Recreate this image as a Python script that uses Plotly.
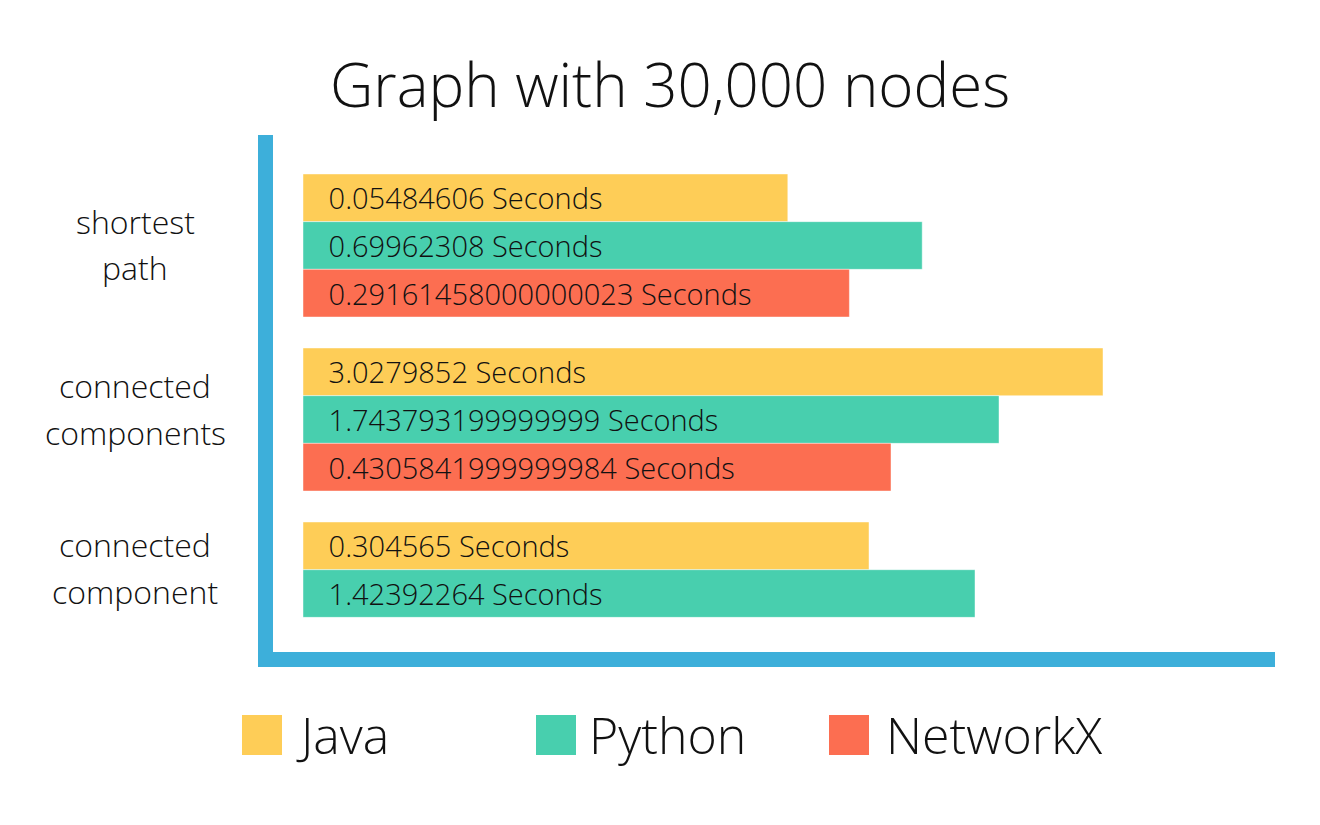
import plotly.graph_objects as go

# ---- data ----
categories = ["shortest path", "connected components", "connected component"]
label_lines = [["shortest", "path"], ["connected", "components"], ["connected", "component"]]
series = ["Java", "Python", "NetworkX"]
seconds_java = ["0.05484606", "3.0279852", "0.304565"]
seconds_python = ["0.69962308", "1.743793199999999", "1.42392264"]
seconds_networkx = ["0.29161458000000023", "0.4305841999999984", None]
# bar lengths as drawn in the infographic (percent of the longest bar; not to scale with the seconds)
length_java = [60.6, 100.0, 70.75]
length_python = [77.4, 87.0, 84.0]
length_networkx = [68.3, 73.5, None]

colors = {"Java": "#FECD57", "Python": "#48CFAE", "NetworkX": "#FC6E51"}
AXIS_BLUE = "#3DAFDA"
FONT = "Open Sans"
W = 350

fig = go.Figure()
for name, lens, secs in [("Java", length_java, seconds_java),
                         ("Python", length_python, seconds_python),
                         ("NetworkX", length_networkx, seconds_networkx)]:
    texts = [("\u00a0" * 3 + s + " Seconds") if s is not None else "" for s in secs]
    fig.add_trace(go.Bar(
        name=name, y=categories, x=lens, orientation="h",
        marker=dict(color=colors[name], line=dict(color="rgba(255,255,255,0.45)", width=1)),
        text=texts, textposition="inside", insidetextanchor="start",
        textfont=dict(family=FONT, size=29, color="#111111", weight=W),
        constraintext="none", cliponaxis=False, hoverinfo="skip", showlegend=False,
    ))

annotations = []
# category labels (two centered lines each)
shifts = [(24, -22), (34, -13), (49, 2)]
for cat, lines, (s1, s2) in zip(categories, label_lines, shifts):
    for line, sh in zip(lines, (s1, s2)):
        annotations.append(dict(
            x=-0.1377, xref="paper", y=cat, yref="y", yshift=sh,
            text=line, showarrow=False, xanchor="center", yanchor="middle",
            font=dict(family=FONT, size=32, color="#111111", weight=W)))

# custom legend
legend_sq_x = [-0.011, 0.2824, 0.5749]
legend_tx_x = [0.021, 0.3134, 0.6098]
for name, sx, tx in zip(series, legend_sq_x, legend_tx_x):
    annotations.append(dict(
        x=sx, xref="paper", y=-0.1605, yref="paper", text="\u00a0", showarrow=False,
        width=40, height=40, bgcolor=colors[name], borderpad=0, borderwidth=0,
        xanchor="center", yanchor="middle", font=dict(size=10)))
    annotations.append(dict(
        x=tx, xref="paper", y=-0.1605, yref="paper", text=name, showarrow=False,
        xanchor="left", yanchor="middle",
        font=dict(family=FONT, size=50, color="#111111", weight=W)))

fig.update_layout(
    width=1320, height=825,
    margin=dict(l=273, r=45, t=135, b=173),
    paper_bgcolor="white", plot_bgcolor="white",
    barmode="group", bargap=0.178, bargroupgap=0,
    title=dict(text="Graph with 30,000 nodes", x=0.5076, xanchor="center",
               y=0.896, yanchor="middle",
               font=dict(family=FONT, size=60, color="#111111", weight=W)),
    xaxis=dict(range=[-3.75, 121.5], showgrid=False, zeroline=False,
               showticklabels=False, ticks="", showline=True,
               linecolor=AXIS_BLUE, linewidth=15),
    yaxis=dict(type="category", categoryorder="array", categoryarray=categories,
               range=[2.336, -0.635], showgrid=False, zeroline=False,
               showticklabels=False, ticks="", showline=True,
               linecolor=AXIS_BLUE, linewidth=15),
    annotations=annotations,
    showlegend=False,
)

fig.write_html("out.html")
